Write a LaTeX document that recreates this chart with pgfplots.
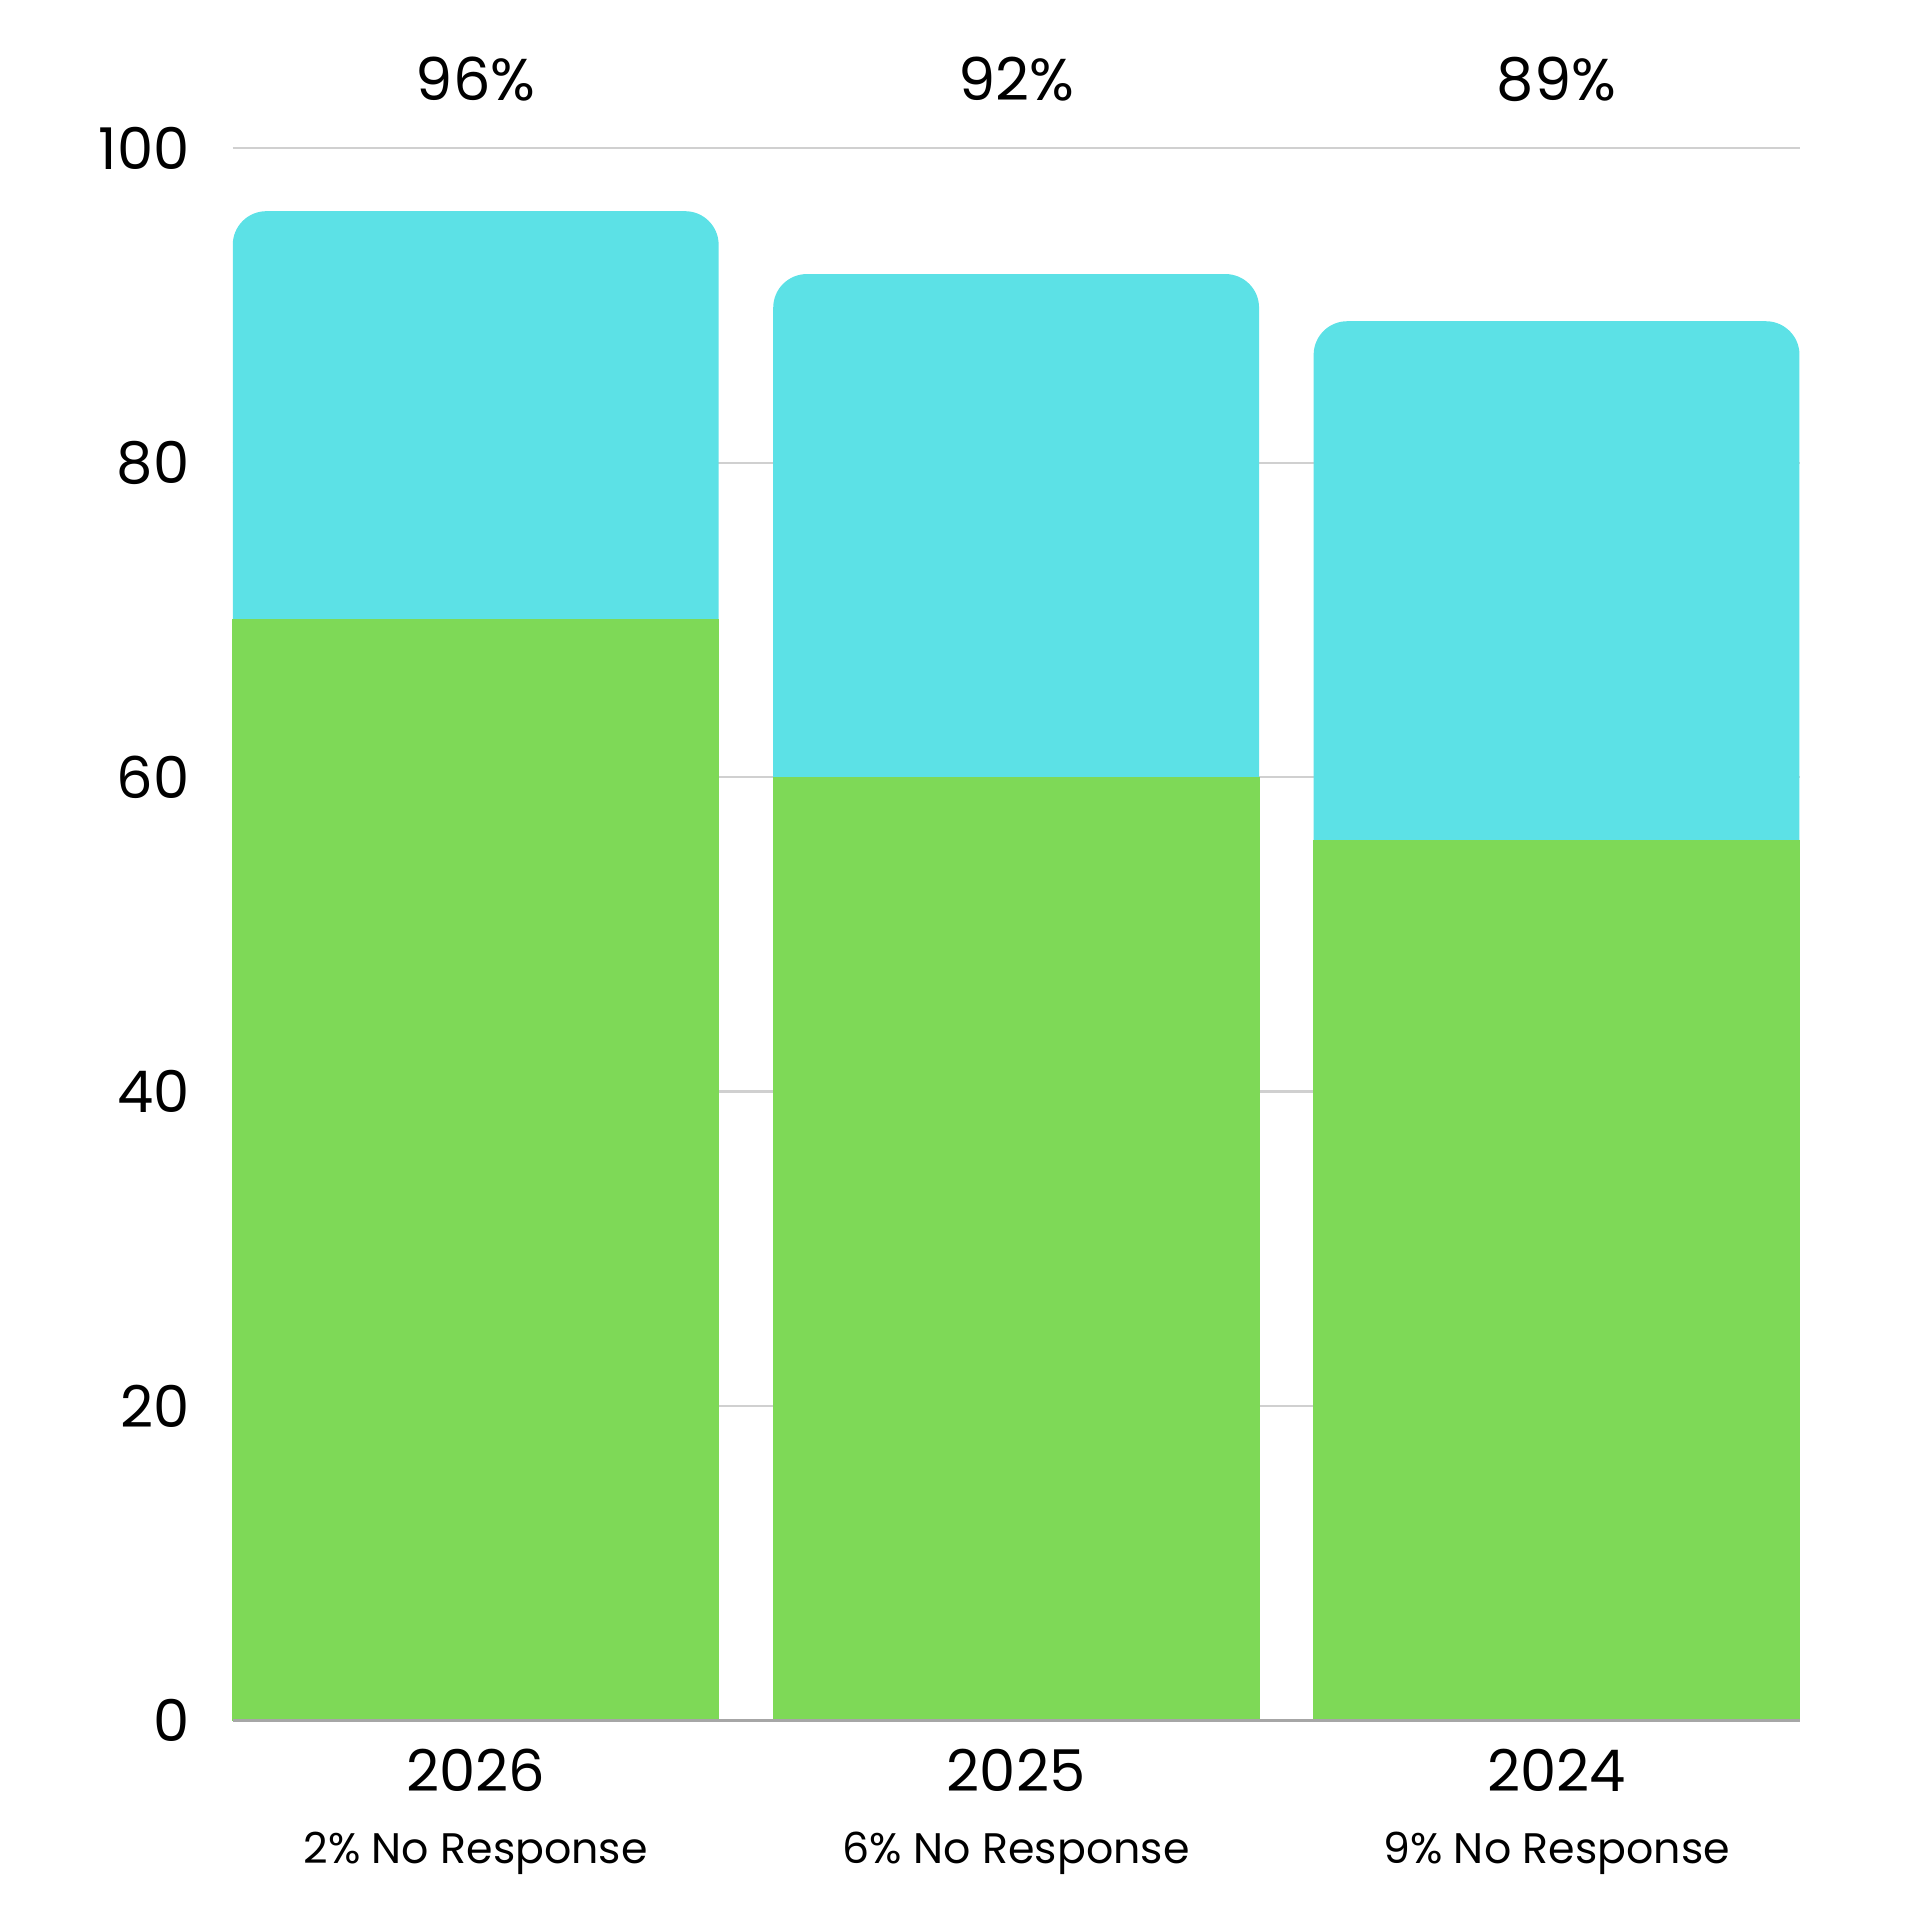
\documentclass[border=0pt]{standalone}
\usepackage{pgfplots}
\pgfplotsset{compat=1.18}
\usepackage{fontspec}
\setmainfont{Poppins}
\definecolor{cyanbar}{HTML}{5CE1E6}
\definecolor{greenbar}{HTML}{7ED957}
\definecolor{gridgray}{HTML}{D0D0D0}
\begin{document}
\begin{tikzpicture}
\path[use as bounding box] (-48.5pt,-41.6pt) rectangle (351.5pt,358.5pt);
\begin{axis}[
  scale only axis, width=326.5pt, height=327.6pt,
  at={(0,0)}, anchor=south west,
  xmin=-0.4496, xmax=2.4496, ymin=0, ymax=100,
  ytick={0,20,40,60,80,100},
  xtick={0,1,2},
  xticklabels={{2026\\[0.6pt]{\fontsize{8.9}{11}\selectfont 2\% No Response}},
               {2025\\[0.6pt]{\fontsize{8.9}{11}\selectfont 6\% No Response}},
               {2024\\[0.6pt]{\fontsize{8.9}{11}\selectfont 9\% No Response}}},
  xticklabel style={align=center, yshift=-2.4pt},
  yticklabel style={xshift=-5.5pt},
  /pgf/number format/assume math mode=true,
  tick label style={font=\fontsize{12.0}{14.5}\selectfont},
  major tick length=0pt,
  axis line style={draw=none},
  ymajorgrids,
  grid style={draw=gridgray, line width=0.5pt},
  clip=false,
]
\addplot[ybar, bar width=0.899, bar shift=0pt, fill=cyanbar, draw=none, rounded corners=7pt]
  coordinates {(0,96) (1,92) (2,89)};
\addplot[ybar, bar width=0.899, bar shift=0pt, fill=greenbar, draw=greenbar, line width=0.2pt]
  coordinates {(0,70) (1,60) (2,56)};
\draw[draw=gray!70, line width=0.5pt] (axis cs:-0.4496,0) -- (axis cs:2.4496,0);
\node[anchor=base, font=\fontsize{12.3}{15}\selectfont, yshift=10pt] at (axis cs:0,100) {96\%};
\node[anchor=base, font=\fontsize{12.3}{15}\selectfont, yshift=10pt] at (axis cs:1,100) {92\%};
\node[anchor=base, font=\fontsize{12.3}{15}\selectfont, yshift=10pt] at (axis cs:2,100) {89\%};
\end{axis}
\end{tikzpicture}
\end{document}
